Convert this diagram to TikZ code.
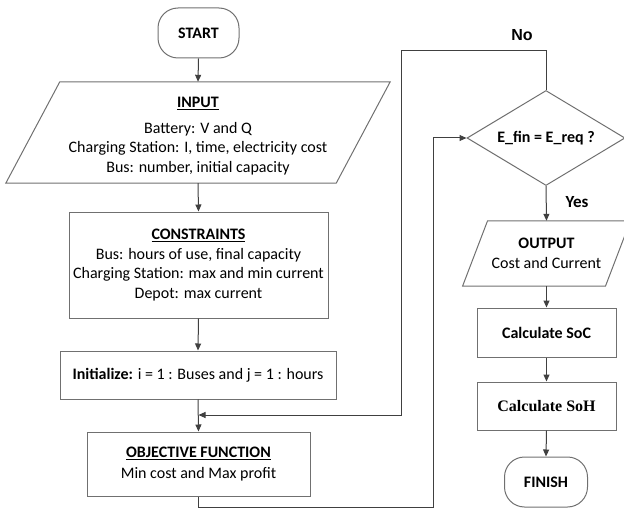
\documentclass[tikz,border=0pt]{standalone}
\usepackage{fontspec}
\setmainfont{Carlito}
\newfontfamily\arialfont{Liberation Sans}
\newfontfamily\timesfont{Liberation Serif}
\usetikzlibrary{arrows.meta,shapes.geometric}
\definecolor{edgegray}{HTML}{707070}
\definecolor{linedark}{HTML}{404040}

\begin{document}
\begin{tikzpicture}[x=1pt,y=-1pt,
    every node/.style={font=\fontsize{16}{19.5}\selectfont,align=center},
    box/.style={draw=edgegray,line width=1pt,rectangle,inner sep=0pt},
    term/.style={box,rounded corners=20pt,minimum width=81pt,minimum height=50pt},
    io/.style={rectangle,inner sep=0pt},
    ioline/.style={draw=edgegray,line width=1pt,line join=miter},
    cond/.style={draw=edgegray,line width=1pt,diamond,aspect=1.66,inner sep=0pt},
    arr/.style={draw=linedark,line width=1pt,-{Triangle[width=6pt,length=7pt]}}]
  \clip (0,0) rectangle (624,508);

  % left column
  \node[term] (start) at (198.5,33) {\textbf{START}};
  \node[io,minimum width=330pt,minimum height=101pt] (input) at (198,132.5)
       {\rule{0pt}{18pt}\underline{\textbf{INPUT}}\\[6pt]Battery: V and Q\\Charging Station: I, time, electricity cost\\Bus: number, initial capacity};
  \draw[ioline] ([xshift=27pt]input.north west) -- ([xshift=27pt]input.north east)
     -- ([xshift=-27pt]input.south east) -- ([xshift=-27pt]input.south west) -- cycle;
  \node[box,minimum width=259pt,minimum height=106pt] (cons) at (198.5,265)
       {\underline{\textbf{CONSTRAINTS}}\\Bus: hours of use, final capacity\\Charging Station: max and min current\\Depot: max current};
  \node[box,minimum width=276pt,minimum height=48pt] (init) at (198,375)
       {\textbf{Initialize:} i = 1 : Buses and j = 1 : hours};
  \node[box,minimum width=223pt,minimum height=64pt] (obj) at (198.5,464)
       {\underline{\textbf{OBJECTIVE FUNCTION}}\\[1.5pt]Min cost and Max profit};

  % right column
  \node[cond,minimum width=158pt,minimum height=95pt] (check) at (546,138) {\textbf{E\_fin = E\_req ?}};
  \node[io,minimum width=142.5pt,minimum height=65pt] (output) at (546.5,253.5)
       {\textbf{OUTPUT}\\Cost and Current};
  \draw[ioline] ([xshift=12.5pt]output.north west) -- ([xshift=12.5pt]output.north east)
     -- ([xshift=-12.5pt]output.south east) -- ([xshift=-12.5pt]output.south west) -- cycle;
  \node[box,minimum width=139pt,minimum height=49pt] (soc) at (546.5,332.5) {\textbf{Calculate SoC}};
  \node[box,minimum width=139pt,minimum height=48pt] (soh) at (546.5,406) {\timesfont\bfseries Calculate SoH};
  \node[term,minimum width=83pt] (finish) at (546,482) {\textbf{FINISH}};

  \node[font=\arialfont\bfseries\fontsize{16}{19}\selectfont] (nolbl) at (522,35) {No};
  \node[font=\bfseries\fontsize{17}{19}\selectfont] (yeslbl) at (577,202) {Yes};

  \coordinate (loopdown) at (433,507);
  \coordinate (loopup) at (401,51);
  \coordinate (merge) at (198.5,415);

  \draw[arr] (start.south) -- (input.north);
  \draw[arr] (input.south) -- (cons.north);
  \draw[arr] (cons.south) -- (init.north);
  \draw[arr] (init.south) -- (obj.north);
  \draw[arr] (obj.south) |- (loopdown) |- (check.west);
  \draw[arr] (check.north) |- (loopup) |- (merge);
  \draw[arr] (check.south) -- (output.north);
  \draw[arr] (output.south) -- (soc.north);
  \draw[arr] (soc.south) -- (soh.north);
  \draw[arr] (soh.south) -- (finish.north);
\end{tikzpicture}
\end{document}
